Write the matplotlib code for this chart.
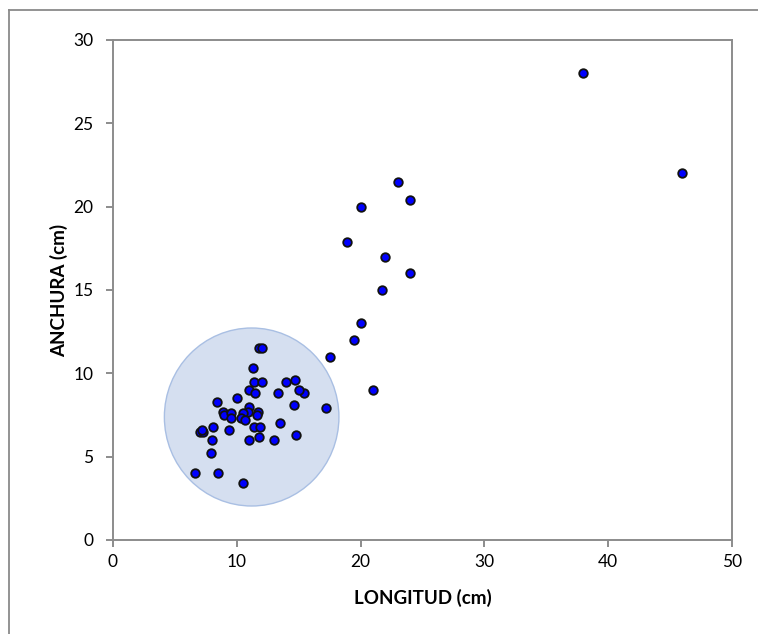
import matplotlib
matplotlib.use("Agg")
import matplotlib.pyplot as plt
from matplotlib.patches import Ellipse
from matplotlib.lines import Line2D

# Measured specimens: length vs. width (cm)
longitud = [38.0, 46.0, 23.0, 24.0, 20.0, 18.9, 22.0, 24.0, 21.7, 20.0, 19.5, 17.5, 21.0,
            17.2, 15.4, 15.0, 14.7, 14.0, 14.6, 14.8, 13.5, 13.3, 13.0,
            11.8, 12.0, 11.3, 11.4, 12.0, 11.0, 11.5, 11.0, 10.9, 11.7, 11.6, 10.5,
            10.3, 10.7, 11.4, 11.9, 11.8, 11.0,
            10.0, 8.4, 8.9, 9.0, 9.5, 9.5, 9.4, 8.1, 8.0, 7.9, 7.0, 7.3, 7.15,
            6.6, 8.5, 10.5]
anchura = [28.0, 22.0, 21.5, 20.4, 20.0, 17.9, 17.0, 16.0, 15.0, 13.0, 12.0, 11.0, 9.0,
           7.9, 8.8, 9.0, 9.6, 9.5, 8.1, 6.3, 7.0, 8.8, 6.0,
           11.5, 11.5, 10.3, 9.5, 9.5, 9.0, 8.8, 8.0, 7.7, 7.7, 7.5, 7.6,
           7.3, 7.2, 6.8, 6.8, 6.2, 6.0,
           8.5, 8.3, 7.7, 7.5, 7.6, 7.3, 6.6, 6.8, 6.0, 5.2, 6.5, 6.5, 6.6,
           4.0, 4.0, 3.4]

x_ticks = [0, 10, 20, 30, 40, 50]
y_ticks = [0, 5, 10, 15, 20, 25, 30]

W, H = 758, 634
fig = plt.figure(figsize=(W / 100, H / 100), dpi=100)
plt.rcParams['font.family'] = ['Lato', 'DejaVu Sans']

# Outer chart frame (left and top edges)
frame_col = '#8a8a8a'
fig.add_artist(Line2D([9 / W, 9 / W], [0, 1 - 10 / H], transform=fig.transFigure,
                      color=frame_col, lw=1.3))
fig.add_artist(Line2D([9 / W, 1], [1 - 10 / H, 1 - 10 / H], transform=fig.transFigure,
                      color=frame_col, lw=1.3))

ax = fig.add_axes([113 / W, (H - 540) / H, (732 - 113) / W, (540 - 40) / H])
ax.set_xlim(0, 50)
ax.set_ylim(0, 30)
ax.set_xticks(x_ticks)
ax.set_yticks(y_ticks)

for s in ax.spines.values():
    s.set_color('#8c8c8c')
    s.set_linewidth(1.4)
ax.tick_params(axis='both', direction='out', length=5, width=1.4, color='#8c8c8c',
               labelsize=12.5, labelcolor='#000000')
ax.tick_params(axis='x', pad=5)
ax.tick_params(axis='y', pad=9)

# Highlighted cluster
ax.add_patch(Ellipse((11.2, 7.38), 14.1, 10.68, facecolor='#d5dff0',
                     edgecolor='#a9bfe3', lw=1.0, zorder=1))

ax.scatter(longitud, anchura, s=38, color='#0000ff', edgecolors='#111111',
           linewidths=1.3, zorder=3, clip_on=False)

ax.set_xlabel('LONGITUD (cm)', fontsize=13.5, fontweight='bold', labelpad=14)
ax.set_ylabel('ANCHURA (cm)', fontsize=13.5, fontweight='bold', labelpad=4)

fig.savefig('out.png', dpi=100)
